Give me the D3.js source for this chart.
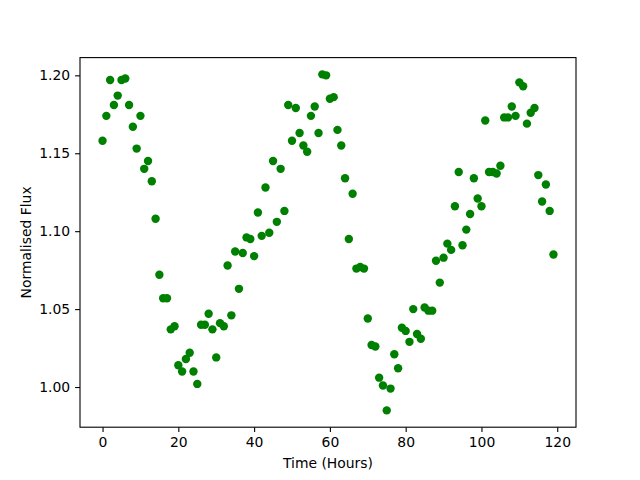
<!DOCTYPE html>
<html>
<head>
<meta charset="utf-8">
<script src="https://cdn.jsdelivr.net/npm/d3@7"></script>
<style>
  body { margin: 0; background: #fff; }
  svg { display: block; font-family: "DejaVu Sans", sans-serif; }
</style>
</head>
<body>
<svg id="chart" width="640" height="480"></svg>
<script>
// hours 0..119, one reading per hour
const hours = d3.range(0, 120);
const flux = [
  1.158, 1.174, 1.197, 1.181, 1.187, 1.197, 1.198, 1.181, 1.167, 1.153,
  1.174, 1.140, 1.145, 1.132, 1.108, 1.072, 1.057, 1.057, 1.037, 1.039,
  1.014, 1.010, 1.018, 1.022, 1.010, 1.002, 1.040, 1.040, 1.047, 1.037,
  1.019, 1.041, 1.039, 1.078, 1.046, 1.087, 1.063, 1.086, 1.096, 1.095,
  1.084, 1.112, 1.097, 1.128, 1.099, 1.145, 1.106, 1.140, 1.113, 1.181,
  1.158, 1.179, 1.163, 1.155, 1.151, 1.174, 1.180, 1.163, 1.2006, 1.200,
  1.185, 1.186, 1.165, 1.155, 1.134, 1.095, 1.124, 1.076, 1.077, 1.076,
  1.044, 1.027, 1.026, 1.006, 1.001, 0.985, 0.999, 1.021, 1.012, 1.038,
  1.036, 1.029, 1.050, 1.034, 1.031, 1.051, 1.049, 1.049, 1.081, 1.067,
  1.083, 1.092, 1.088, 1.116, 1.138, 1.091, 1.101, 1.111, 1.134, 1.121,
  1.116, 1.171, 1.138, 1.138, 1.137, 1.142, 1.173, 1.173, 1.180, 1.174,
  1.1955, 1.193, 1.169, 1.176, 1.179, 1.136, 1.119, 1.130, 1.113, 1.085
];
const xTicks = [0, 20, 40, 60, 80, 100, 120];
const yTicks = [1.00, 1.05, 1.10, 1.15, 1.20];

const data = hours.map((h, i) => ({ t: h, f: flux[i] }));

const width = 640, height = 480;
const marginLeft = 80, marginRight = 64, marginTop = 57.6, marginBottom = 52.8;

// matplotlib style 5% padding on each side
const xExt = d3.extent(data, d => d.t);
const yExt = d3.extent(data, d => d.f);
const xPad = (xExt[1] - xExt[0]) * 0.05;
const yPad = (yExt[1] - yExt[0]) * 0.05;

const xScale = d3.scaleLinear([xExt[0] - xPad, xExt[1] + xPad], [marginLeft, width - marginRight]);
const yScale = d3.scaleLinear([yExt[0] - yPad, yExt[1] + yPad], [height - marginBottom, marginTop]);

const svg = d3.select("#chart");

const xAxis = d3.axisBottom(xScale).tickValues(xTicks).tickSize(4.9).tickPadding(4.9).tickSizeOuter(0);
const yAxis = d3.axisLeft(yScale).tickValues(yTicks).tickFormat(d3.format(".2f")).tickSize(4.9).tickPadding(4.9).tickSizeOuter(0);

svg.append("g")
    .attr("transform", `translate(0,${height - marginBottom})`)
    .call(xAxis)
    .call(g => g.select(".domain").remove())
    .call(g => g.selectAll("text").attr("font-size", 13.9).attr("font-family", "DejaVu Sans").attr("fill", "#000"))
    .call(g => g.selectAll(".tick line").attr("stroke", "#000").attr("stroke-width", 1.1));

svg.append("g")
    .attr("transform", `translate(${marginLeft},0)`)
    .call(yAxis)
    .call(g => g.select(".domain").remove())
    .call(g => g.selectAll("text").attr("font-size", 13.9).attr("font-family", "DejaVu Sans").attr("fill", "#000"))
    .call(g => g.selectAll(".tick line").attr("stroke", "#000").attr("stroke-width", 1.1));

svg.append("g")
    .selectAll("circle")
    .data(data)
    .join("circle")
    .attr("cx", d => xScale(d.t))
    .attr("cy", d => yScale(d.f))
    .attr("r", 4.2)
    .attr("fill", "#008000");

// axes frame
svg.append("rect")
    .attr("x", marginLeft)
    .attr("y", marginTop)
    .attr("width", width - marginLeft - marginRight)
    .attr("height", height - marginTop - marginBottom)
    .attr("fill", "none")
    .attr("stroke", "#000")
    .attr("stroke-width", 1.1);

svg.append("text")
    .attr("x", (marginLeft + width - marginRight) / 2)
    .attr("y", 468)
    .attr("text-anchor", "middle")
    .attr("font-size", 13.9)
    .text("Time (Hours)");

svg.append("text")
    .attr("transform", `translate(31,${(marginTop + height - marginBottom) / 2}) rotate(-90)`)
    .attr("text-anchor", "middle")
    .attr("font-size", 13.9)
    .text("Normalised Flux");
</script>
</body>
</html>
